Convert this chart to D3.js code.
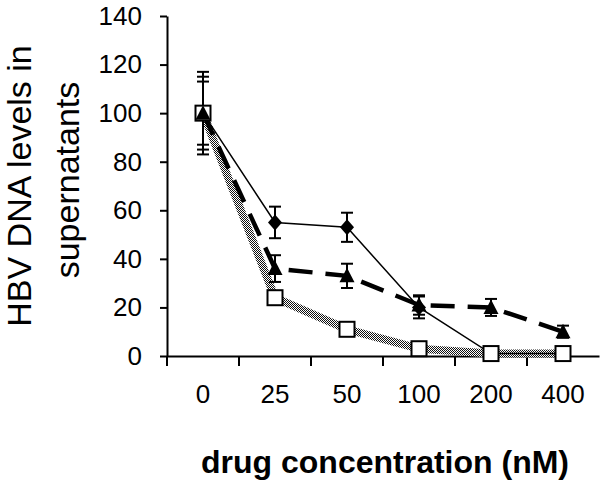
<!DOCTYPE html>
<html>
<head>
<meta charset="utf-8">
<script src="https://cdn.jsdelivr.net/npm/d3@7"></script>
<style>
  body { margin: 0; background: #fff; }
  text { font-family: "Liberation Sans", Arial, sans-serif; fill: #000; }
</style>
</head>
<body>
<svg id="chart" width="600" height="485"></svg>
<script>
const categories = ["0", "25", "50", "100", "200", "400"];
const yTicks = [0, 20, 40, 60, 80, 100, 120, 140];

// diamond series (thin solid line)
const diamondVals = [100, 55, 53, 20, 1, 1];
const diamondErr = [17, 6.5, 6, 4.5, 0, 0];
// triangle series (thick dashed line)
const triangleVals = [100, 36, 33, 21, 20, 10];
const triangleErr = [15, 5.5, 5, 4, 3.5, 2.5];
// square series (grey hatched line)
const squareVals = [100, 24, 11, 3, 1, 1];
const squareErr = [13, 0, 0, 0, 1, 1];

const svg = d3.select("#chart");

const x = d3.scaleBand().domain(categories).range([167, 599]).paddingInner(0).paddingOuter(0);
const y = d3.scaleLinear().domain([0, 140]).range([356, 16]);
const cx = (d) => x(d) + x.bandwidth() / 2;

// dithered grey for the hatched line
const defs = svg.append("defs");
const pat = defs.append("pattern")
  .attr("id", "checker")
  .attr("patternUnits", "userSpaceOnUse")
  .attr("width", 2).attr("height", 2);
pat.append("rect").attr("width", 2).attr("height", 2).attr("fill", "#fff");
pat.append("rect").attr("width", 1).attr("height", 1).attr("fill", "#111");
pat.append("rect").attr("x", 1).attr("y", 1).attr("width", 1).attr("height", 1).attr("fill", "#111");

// axes
const yAxis = svg.append("g")
  .attr("transform", "translate(167,0)")
  .call(d3.axisLeft(y).tickValues(yTicks).tickSize(7).tickPadding(18).tickSizeOuter(0));
yAxis.select(".domain").attr("stroke-width", 2);
yAxis.selectAll(".tick line").attr("stroke-width", 2);
yAxis.selectAll("text").attr("font-size", 26).attr("font-family", "Liberation Sans, Arial, sans-serif");

const xAxis = svg.append("g")
  .attr("transform", "translate(0,356)")
  .call(d3.axisBottom(x).tickSize(0).tickPadding(29).tickSizeOuter(0));
xAxis.select(".domain").attr("stroke-width", 2);
xAxis.selectAll("text").attr("font-size", 26).attr("font-family", "Liberation Sans, Arial, sans-serif");

// category boundary ticks (Excel style)
const bounds = categories.map((d) => x(d));
svg.append("g").selectAll("line").data(bounds).join("line")
  .attr("x1", (d) => d).attr("x2", (d) => d)
  .attr("y1", 356).attr("y2", 366)
  .attr("stroke", "#000").attr("stroke-width", 2);

// axis titles
const yt = svg.append("g").attr("font-size", 34);
yt.append("text").attr("transform", "translate(31,186) rotate(-90)")
  .attr("text-anchor", "middle").text("HBV DNA levels in");
yt.append("text").attr("transform", "translate(79,180) rotate(-90)")
  .attr("text-anchor", "middle").text("supernatants");

svg.append("text")
  .attr("x", 385).attr("y", 473)
  .attr("text-anchor", "middle")
  .attr("font-size", 32).attr("font-weight", "bold")
  .text("drug concentration (nM)");

// lines
const line = (vals) => d3.line().x((d, i) => cx(categories[i])).y((d) => y(d))(vals);

svg.append("path").attr("d", line(squareVals))
  .attr("fill", "none").attr("stroke", "url(#checker)").attr("stroke-width", 8)
  .attr("stroke-linejoin", "round");
svg.append("path").attr("d", line(triangleVals))
  .attr("fill", "none").attr("stroke", "#000").attr("stroke-width", 4.5)
  .attr("stroke-dasharray", "24,13");
svg.append("path").attr("d", line(diamondVals))
  .attr("fill", "none").attr("stroke", "#000").attr("stroke-width", 1.5);

// error bars
function errorBars(vals, errs) {
  const g = svg.append("g").attr("stroke", "#000").attr("stroke-width", 2);
  const data = vals.map((v, i) => ({ c: categories[i], v, e: errs[i] })).filter((d) => d.e > 0);
  g.selectAll("line.v").data(data).join("line").attr("class", "v")
    .attr("x1", (d) => cx(d.c)).attr("x2", (d) => cx(d.c))
    .attr("y1", (d) => y(d.v + d.e)).attr("y2", (d) => y(d.v - d.e));
  g.selectAll("line.t").data(data).join("line").attr("class", "t")
    .attr("x1", (d) => cx(d.c) - 6).attr("x2", (d) => cx(d.c) + 6)
    .attr("y1", (d) => y(d.v + d.e)).attr("y2", (d) => y(d.v + d.e));
  g.selectAll("line.b").data(data).join("line").attr("class", "b")
    .attr("x1", (d) => cx(d.c) - 6).attr("x2", (d) => cx(d.c) + 6)
    .attr("y1", (d) => y(d.v - d.e)).attr("y2", (d) => y(d.v - d.e));
}
errorBars(diamondVals, diamondErr);
errorBars(triangleVals, triangleErr);
errorBars(squareVals, squareErr);

// markers
svg.append("g").selectAll("path").data(diamondVals).join("path")
  .attr("transform", (d, i) => `translate(${cx(categories[i])},${y(d)})`)
  .attr("d", "M0,-8L7,0L0,8L-7,0Z")
  .attr("fill", "#000");

svg.append("g").selectAll("rect").data(squareVals).join("rect")
  .attr("x", (d, i) => cx(categories[i]) - 7.5)
  .attr("y", (d) => y(d) - 7.5)
  .attr("width", 15).attr("height", 15)
  .attr("fill", "#fff").attr("stroke", "#000").attr("stroke-width", 2);

svg.append("g").selectAll("path").data(triangleVals).join("path")
  .attr("transform", (d, i) => `translate(${cx(categories[i])},${y(d)})`)
  .attr("d", "M0,-8L7.5,6.5L-7.5,6.5Z")
  .attr("fill", "#000");
</script>
</body>
</html>
